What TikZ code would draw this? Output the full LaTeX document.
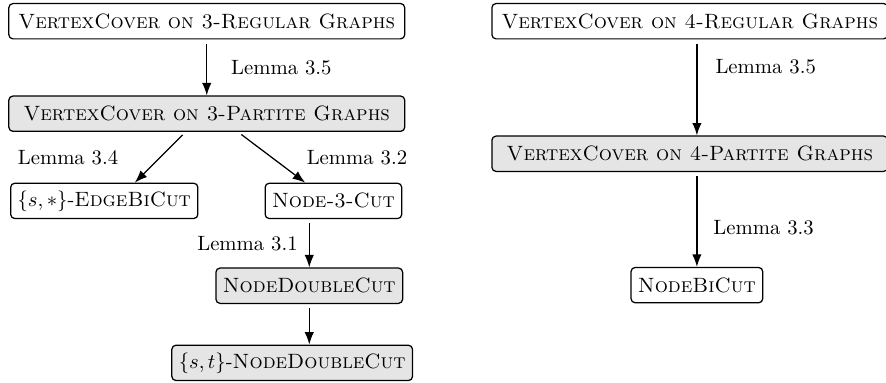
\documentclass[tikz,border=0pt]{standalone}
\usepackage{tikz}
\usepackage{amsmath}
\usetikzlibrary{arrows.meta}

\begin{document}
\begin{tikzpicture}[box/.style={draw,semithick,rounded corners=2pt,minimum height=0.6cm},
  hl/.style={box,fill=gray!20},wide/.style={minimum width=6.72cm},
  arr/.style={semithick,-{Latex[length=6pt,width=4.5pt]},shorten <=2pt},
  lem/.style={inner sep=2pt}]
  \clip (0,0) rectangle (15.04,-6.50);

  \node[box,wide] (r3) at (3.51,-0.36) {\textsc{VertexCover on 3-Regular Graphs}};
  \node[hl,wide] (p3) at (3.51,-1.93) {\textsc{VertexCover on 3-Partite Graphs}};
  \node[box] (eb) at (1.77,-3.41) {$\{s,*\}$-\textsc{EdgeBiCut}};
  \node[box] (n3c) at (5.66,-3.41) {\textsc{Node-3-Cut}};
  \node[hl] (ndc) at (5.25,-4.85) {\textsc{NodeDoubleCut}};
  \node[hl] (stndc) at (4.96,-6.16) {$\{s,t\}$-\textsc{NodeDoubleCut}};

  \node[box,wide] (r4) at (11.71,-0.36) {\textsc{VertexCover on 4-Regular Graphs}};
  \node[hl,wide] (p4) at (11.71,-2.61) {\textsc{VertexCover on 4-Partite Graphs}};
  \node[box] (nb) at (11.83,-4.84) {\textsc{NodeBiCut}};

  \draw[arr] (r3) -- node[lem,midway,right=9.5pt] {Lemma 3.5} (p3);
  \draw[arr] ([xshift=-0.36cm]p3.south) -- node[lem,midway,left=18pt] {Lemma 3.4}
    ([xshift=0.52cm]eb.north);
  \draw[arr] ([xshift=0.53cm]p3.south) -- node[lem,midway,right=14.7pt] {Lemma 3.2}
    ([xshift=-0.48cm]n3c.north);
  \draw[arr] (n3c.south -| ndc) -- node[lem,midway,left=3.3pt] {Lemma 3.1} (ndc);
  \draw[arr] (ndc) -- (stndc.north -| ndc);

  \draw[arr] (r4.south -| nb) -- node[lem,pos=0.28,right=6.7pt] {Lemma 3.5} (p4.north -| nb);
  \draw[arr] (p4.south -| nb) -- node[lem,pos=0.59,right=5.7pt] {Lemma 3.3} (nb);
\end{tikzpicture}
\end{document}
